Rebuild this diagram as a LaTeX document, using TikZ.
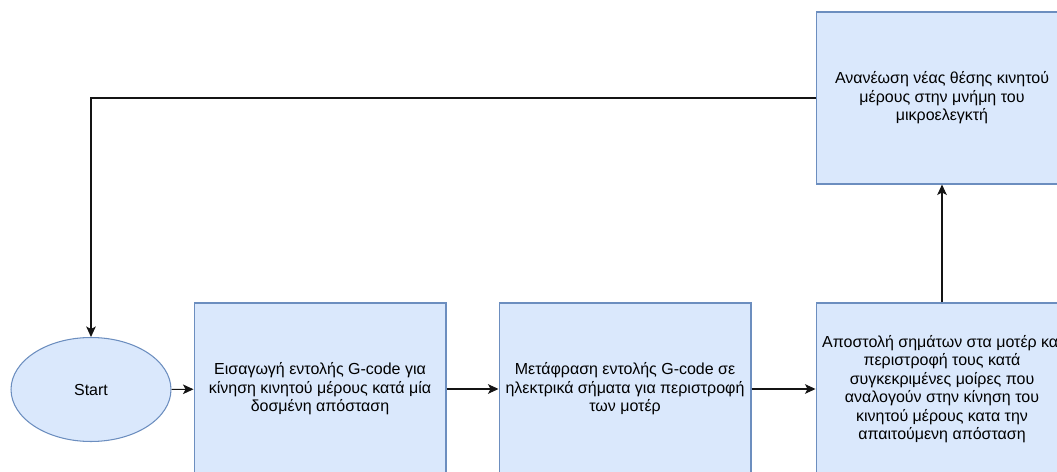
\documentclass[tikz,border=0pt]{standalone}
\usepackage{fontspec}
\setmainfont{Liberation Sans}
\usetikzlibrary{arrows.meta, positioning, shapes.geometric}
\definecolor{BF}{RGB}{218,232,252}
\definecolor{BD}{RGB}{108,142,191}
\definecolor{DG}{RGB}{20,20,20}

\begin{document}
\begin{tikzpicture}[
  x=0.02cm, y=-0.02cm,
  box/.style={draw=BD, fill=BF, line width=0.6pt, inner sep=0pt,
              minimum width=5.04cm, minimum height=3.44cm,
              align=center, font=\fontsize{9.1}{10.5}\selectfont},
  startbox/.style={ellipse, draw=BD, fill=BF, line width=0.6pt,
              minimum width=3.2cm, minimum height=2.08cm,
              font=\fontsize{9.1}{10.5}\selectfont},
  arr/.style={-{Stealth[length=6pt, width=5.5pt, inset=1.5pt]},
              draw=DG, line width=0.6pt}
]
\useasboundingbox (0,0) rectangle (1057,472);
\clip (0,0) rectangle (1057,472);

\node[startbox] (start)  at (91,389.5) {Start};
\node[box]      (input)  at (320,389)  {Εισαγωγή εντολής G-code για\\κίνηση κινητού μέρους κατά μία\\δοσμένη απόσταση};
\node[box]      (transl) at (625,389)  {Μετάφραση εντολής G-code σε\\ηλεκτρικά σήματα για περιστροφή\\των μοτέρ};
\node[box]      (send)   at (942,389)  {Αποστολή σημάτων στα μοτέρ και\\περιστροφή τους κατά\\συγκεκριμένες μοίρες που\\αναλογούν στην κίνηση του\\κινητού μέρους κατα την\\απαιτούμενη απόσταση};
\node[box]      (update) at (942,98)   {Ανανέωση νέας θέσης κινητού\\μέρους στην μνήμη του\\μικροελεγκτή};

\draw[arr] (start)--(input);
\draw[arr] (input)--(transl);
\draw[arr] (transl)--(send);
\draw[arr] (send)--(update);
\draw[arr] (update.west) -| (start.north);
\end{tikzpicture}
\end{document}
